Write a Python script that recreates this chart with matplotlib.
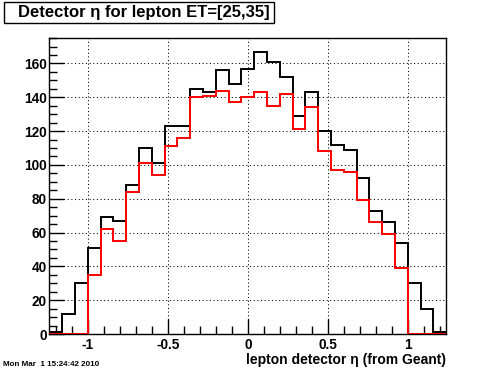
import matplotlib
matplotlib.use('Agg')
import matplotlib.pyplot as plt
from matplotlib.patches import Rectangle
from matplotlib.ticker import MultipleLocator
import numpy as np

# Histogram binning
x_min, x_max, n_bins = -1.24, 1.24, 31

black_counts = [1, 12, 30, 51, 69, 67, 88, 110, 101, 123, 123, 145, 143, 156, 148,
                157, 167, 161, 152, 129, 143, 120, 112, 109, 92, 73, 66, 54, 30, 15, 1]
red_counts = [0, 0, 0, 35, 62, 55, 84, 101, 94, 111, 116, 140, 141, 144, 137,
              140, 143, 135, 142, 121, 134, 108, 97, 96, 79, 66, 59, 39, 0, 0, 0]

title_text = "Detector \u03b7 for lepton ET=[25,35]"
xlabel_text = "lepton detector \u03b7 (from Geant)"
date_text = "Mon Mar  1 15:24:42 2010"
x_major = [-1, -0.5, 0, 0.5, 1]
x_major_labels = ["-1", "-0.5", "0", "0.5", "1"]
y_major = [0, 20, 40, 60, 80, 100, 120, 140, 160]

fam = ['Liberation Sans', 'DejaVu Sans']
plt.rcParams['font.family'] = fam

fig = plt.figure(figsize=(4.96, 3.72), dpi=100)
ax = fig.add_axes([49.3/496, 1-334/372, (446.3-49.3)/496, (334-37.5)/372])

edges = np.linspace(x_min, x_max, n_bins + 1)
ax.stairs(black_counts, edges, color='black', lw=1.4, baseline=0, zorder=3)
ax.stairs(red_counts, edges, color='red', lw=1.4, baseline=0, zorder=4)

ax.set_xlim(x_min, x_max)
ax.set_ylim(0, 175.35)

ax.set_xticks(x_major)
ax.set_xticklabels(x_major_labels)
ax.set_yticks(y_major)
ax.xaxis.set_minor_locator(MultipleLocator(0.1))
ax.yaxis.set_minor_locator(MultipleLocator(5))
ax.tick_params(which='major', direction='in', length=11, width=1, labelsize=9.8, pad=3)
ax.tick_params(which='minor', direction='in', length=5.5, width=1)
ax.tick_params(axis='y', which='major', pad=2)
for lab in ax.get_xticklabels() + ax.get_yticklabels():
    lab.set_fontweight('bold')

ax.grid(True, which='major', color='black', lw=0.75, linestyle=(0, (1, 2.5)), zorder=1)
for sp in ax.spines.values():
    sp.set_linewidth(1)

# X axis title (right-aligned at the axis end)
fig.text(446/496, 1-360/372, xlabel_text, fontsize=10, fontweight='bold',
         ha='right', va='center')

# Title box
fig.patches.append(Rectangle((4/496, 1-23/372), 270/496, 21/372, transform=fig.transFigure,
                             fill=False, edgecolor='black', lw=1))
fig.text(18/496, 1-12.5/372, title_text, fontsize=12, fontweight='bold',
         ha='left', va='center')

fig.text(3/496, 1-364/372, date_text, fontsize=5.8, fontweight='bold', ha='left', va='center')

fig.savefig('out.png', dpi=100)
